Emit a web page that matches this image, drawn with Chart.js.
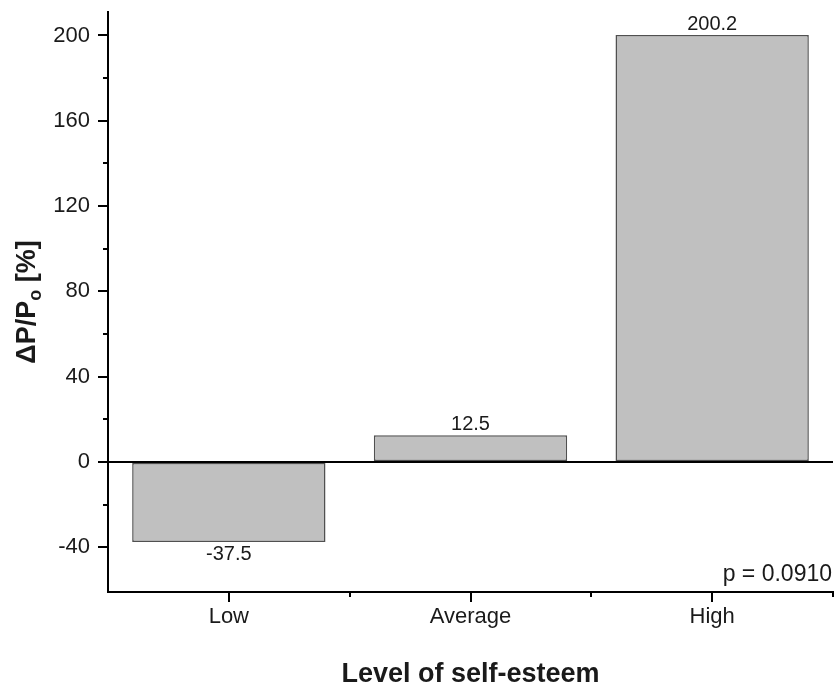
<!DOCTYPE html>
<html>
<head>
<meta charset="utf-8">
<script src="https://cdn.jsdelivr.net/npm/chart.js@4"></script>
<style>
  body { margin: 0; background: #fff; }
</style>
</head>
<body>
<canvas id="chart" width="836" height="690"></canvas>
<script>
// data
const categories = ["Low", "Average", "High"];
const values = [-37.5, 12.5, 200.2];
const majorTicks = [-40, 0, 40, 80, 120, 160, 200];
const minorTicks = [-20, 20, 60, 100, 140, 180];
const pText = "p = 0.0910";

const font = "'Liberation Sans', Arial, sans-serif";
const ink = "#1a1a1a";
Chart.defaults.font.family = font;
Chart.defaults.color = ink;

// tick marks (major + minor), drawn from the scales
const tickMarks = {
  id: "tickMarks",
  afterDraw(chart) {
    const ctx = chart.ctx;
    const y = chart.scales.y, x = chart.scales.x;
    ctx.save();
    ctx.strokeStyle = "#000";
    ctx.lineWidth = 2;
    ctx.beginPath();
    majorTicks.forEach(v => {
      let py = Math.round(y.getPixelForValue(v));
      ctx.moveTo(y.right - 10, py); ctx.lineTo(y.right, py);
    });
    minorTicks.forEach(v => {
      let py = Math.round(y.getPixelForValue(v));
      ctx.moveTo(y.right - 5, py); ctx.lineTo(y.right, py);
    });
    categories.forEach((c, i) => {
      let px = Math.round(x.getPixelForValue(i));
      ctx.moveTo(px, x.top); ctx.lineTo(px, x.top + 10);
      let pb = Math.round(x.getPixelForValue(i + 0.5));
      ctx.moveTo(pb, x.top); ctx.lineTo(pb, x.top + 5);
    });
    ctx.stroke();
    ctx.restore();
  }
};

// value labels over/under bars + p value
const barLabels = {
  id: "barLabels",
  afterDatasetsDraw(chart) {
    const ctx = chart.ctx;
    const meta = chart.getDatasetMeta(0);
    ctx.save();
    ctx.fillStyle = ink;
    ctx.font = "20px " + font;
    ctx.textAlign = "center";
    meta.data.forEach((bar, i) => {
      if (values[i] >= 0) {
        ctx.textBaseline = "bottom";
        ctx.fillText(values[i].toFixed(1), bar.x, bar.y - 1);
      } else {
        ctx.textBaseline = "top";
        ctx.fillText(values[i].toFixed(1), bar.x, bar.y + 3);
      }
    });
    ctx.font = "23px " + font;
    ctx.textAlign = "right";
    ctx.textBaseline = "alphabetic";
    ctx.fillText(pText, chart.chartArea.right - 1, chart.chartArea.bottom - 11);
    ctx.restore();
  }
};

// y title with subscript o
const yTitle = {
  id: "yTitle",
  afterDraw(chart) {
    const ctx = chart.ctx;
    const a = chart.chartArea;
    const big = "bold 27px " + font, small = "bold 18px " + font;
    const parts = [["\u0394P/P", big, 0], ["o", small, 6], [" [%]", big, 0]];
    ctx.save();
    let w = 0;
    parts.forEach(p => { ctx.font = p[1]; w += ctx.measureText(p[0]).width; });
    ctx.translate(35, (a.top + a.bottom) / 2);
    ctx.rotate(-Math.PI / 2);
    ctx.fillStyle = ink;
    ctx.textBaseline = "alphabetic";
    let cx = -w / 2;
    parts.forEach(p => {
      ctx.font = p[1];
      ctx.fillText(p[0], cx, p[2]);
      cx += ctx.measureText(p[0]).width;
    });
    ctx.restore();
  }
};

new Chart(document.getElementById("chart"), {
  type: "bar",
  data: {
    labels: categories,
    datasets: [{
      data: values,
      backgroundColor: "#c0c0c0",
      borderColor: "#505050",
      borderWidth: 1.5,
      borderSkipped: false,
      barPercentage: 0.8,
      categoryPercentage: 1.0
    }]
  },
  options: {
    responsive: false,
    animation: false,
    layout: { padding: { top: 12, right: 3, left: 0, bottom: 0 } },
    plugins: { legend: { display: false }, tooltip: { enabled: false } },
    scales: {
      x: {
        offset: true,
        afterFit: s => { s.height = 98; s.paddingLeft = 0; s.paddingRight = 0; },
        border: { display: true, color: "#000", width: 2 },
        grid: { display: true, drawOnChartArea: false, drawTicks: false },
        ticks: { font: { size: 22 }, color: ink, padding: 12 },
        title: {
          display: true,
          text: "Level of self-esteem",
          font: { size: 27, weight: "bold" },
          color: ink,
          padding: { top: 0, bottom: -1 }
        }
      },
      y: {
        min: -61,
        max: 211,
        afterFit: s => { s.width = 108; s.paddingTop = 0; s.paddingBottom = 0; },
        afterBuildTicks: s => { s.ticks = majorTicks.map(v => ({ value: v })); },
        border: { display: true, color: "#000", width: 2 },
        grid: {
          drawTicks: false,
          color: c => (c.tick && c.tick.value === 0 ? "#000" : "rgba(0,0,0,0)"),
          lineWidth: 2
        },
        ticks: { font: { size: 22 }, color: ink, padding: 18 }
      }
    }
  },
  plugins: [tickMarks, barLabels, yTitle]
});
</script>
</body>
</html>
